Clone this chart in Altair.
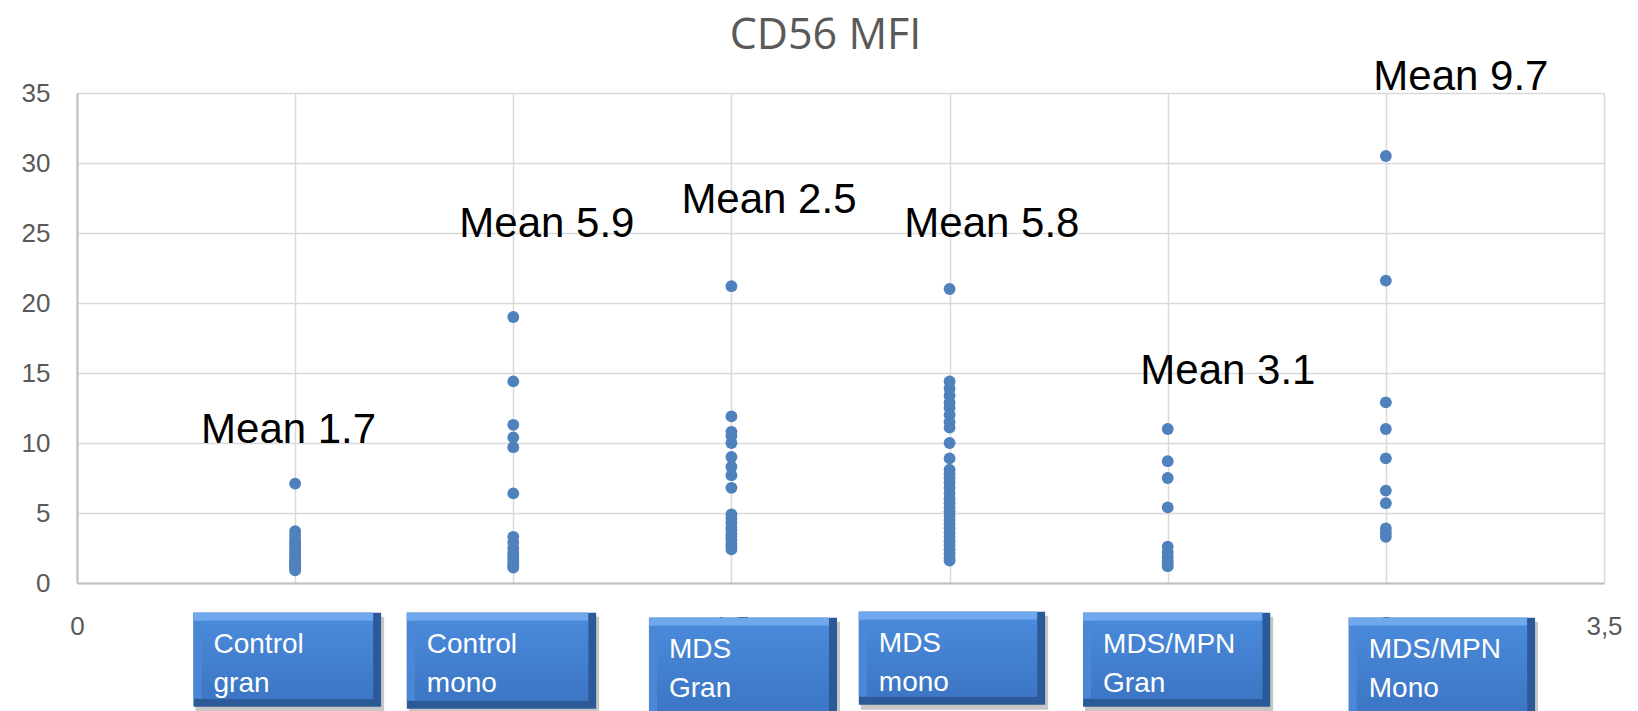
import altair as alt
import pandas as pd

# Group positions on the x axis and the measured CD56 MFI values per group
x_positions = [0.5, 1.0, 1.5, 2.0, 2.5, 3.0]

control_gran = [7.1, 3.7, 3.4, 3.1, 2.9, 2.7, 2.5, 2.3, 2.1, 1.9, 1.8, 1.6,
                1.5, 1.4, 1.3, 1.2, 1.1, 1.0, 0.9]
control_mono = [19.0, 14.4, 11.3, 10.4, 9.7, 6.4, 3.3, 2.9, 2.5, 2.2, 2.0,
                1.8, 1.6, 1.4, 1.2, 1.1]
mds_gran = [21.2, 11.9, 10.8, 10.5, 10.0, 9.0, 8.3, 7.7, 6.8, 4.9, 4.6, 4.3,
            4.0, 3.8, 3.5, 3.3, 3.1, 2.8, 2.6, 2.4]
mds_mono = [21.0, 14.4, 13.9, 13.4, 12.9, 12.5, 12.0, 11.5, 11.1, 10.0, 8.9,
            8.1, 7.8, 7.5, 7.2, 6.8, 6.4, 6.0, 5.7, 5.4, 5.1, 4.8, 4.5, 4.2,
            3.9, 3.6, 3.3, 3.0, 2.7, 2.4, 2.1, 1.8, 1.6]
mpn_gran = [11.0, 8.7, 7.5, 5.4, 2.6, 2.2, 1.9, 1.6, 1.4, 1.2]
mpn_mono = [30.5, 21.6, 12.9, 11.0, 8.9, 6.6, 5.7, 3.9, 3.6, 3.3]

groups = [control_gran, control_mono, mds_gran, mds_mono, mpn_gran, mpn_mono]

# "Mean" annotations (anchored in data space, baseline of the text)
mean_labels = ["Mean 1.7", "Mean 5.9", "Mean 2.5", "Mean 5.8", "Mean 3.1", "Mean 9.7"]
mean_x = [0.485, 1.077, 1.586, 2.097, 2.638, 3.172]
mean_y = [10.0, 24.7, 26.4, 24.7, 14.2, 35.2]

# Category boxes under the x axis (data-space extents)
NBSP = "\u00a0"
box_labels = ["Control\n" + NBSP + "gran", "Control\n" + NBSP + "mono", "MDS\nGran",
              "MDS\n" + NBSP + "mono", "MDS/MPN\nGran", "MDS/MPN\nMono"]
box_left = [0.267, 0.756, 1.311, 1.792, 2.306, 2.915]
box_right = [0.697, 1.190, 1.742, 2.219, 2.735, 3.342]
box_top = [-2.12, -2.12, -2.48, -2.05, -2.12, -2.48]
box_bottom = [-8.84, -8.98, -9.76, -8.69, -8.84, -9.76]

x_ticks = [0, 0.5, 1, 1.5, 2, 2.5, 3, 3.5]
y_ticks = [0, 5, 10, 15, 20, 25, 30, 35]

points = pd.DataFrame(
    [{"x": xp, "value": v} for xp, vals in zip(x_positions, groups) for v in vals]
)
means = pd.DataFrame({"label": mean_labels, "x": mean_x, "y": mean_y})
boxes = pd.DataFrame({"label": box_labels, "x0": box_left, "x1": box_right,
                      "top": box_top, "bottom": box_bottom})

x_scale = alt.Scale(domain=[0, 3.5], nice=False, zero=False)
y_scale = alt.Scale(domain=[0, 35], nice=False, zero=False)

x_axis = alt.Axis(
    values=x_ticks, title=None, grid=True, ticks=False,
    labelExpr="replace(toString(datum.value), '.', ',')",
    labelFlush=False, labelOverlap=False, labelPadding=30,
    labelFontSize=26, labelColor="#595959", labelFont="Liberation Sans",
    gridColor="#D9D9D9", gridWidth=1.5, domainColor="#BFBFBF", domainWidth=2,
    zindex=0,
)
y_axis = alt.Axis(
    values=y_ticks, title=None, grid=True, ticks=False,
    labelPadding=27, labelFontSize=26, labelColor="#595959",
    labelFont="Liberation Sans", labelFlush=False, labelOverlap=False,
    gridColor="#D9D9D9", gridWidth=1.5, domainColor="#BFBFBF", domainWidth=2,
    zindex=0,
)

X = lambda f: alt.X(f, type="quantitative", scale=x_scale, axis=x_axis)
Y = lambda f: alt.Y(f, type="quantitative", scale=y_scale, axis=y_axis)

dots = alt.Chart(points).mark_circle(size=140, color="#4F81BD", opacity=1).encode(
    x=X("x"), y=Y("value")
)

mean_text = alt.Chart(means).mark_text(
    align="center", baseline="alphabetic", fontSize=42,
    font="Liberation Sans", color="black"
).encode(x=X("x"), y=Y("y"), text="label:N")

box_base = alt.Chart(boxes)
box_enc = dict(x=X("x0"), x2="x1", y=Y("top"), y2="bottom")

shadow = box_base.mark_rect(
    color="black", opacity=0.22, xOffset=2, x2Offset=3, yOffset=4, y2Offset=5
).encode(**box_enc)
edge_dark = box_base.mark_rect(color="#2C5A98").encode(**box_enc)
edge_left = box_base.mark_rect(color="#4A88D6", x2Offset=-8, y2Offset=-8).encode(**box_enc)
edge_top = box_base.mark_rect(color="#6FA8EC", x2Offset=-8, y2Offset=8).encode(
    x=X("x0"), x2="x1", y=Y("top"), y2="top"
)
face = box_base.mark_rect(
    xOffset=8, x2Offset=-8, yOffset=8, y2Offset=-8,
    fill=alt.LinearGradient(
        gradient="linear", x1=0, x2=0, y1=0, y2=1,
        stops=[alt.GradientStop(color="#4A8ADA", offset=0),
               alt.GradientStop(color="#3C76C4", offset=1)],
    ),
).encode(**box_enc)
box_text = box_base.mark_text(
    align="left", baseline="alphabetic", dx=20, dy=40, fontSize=28,
    font="Liberation Sans", color="white", lineBreak="\n", lineHeight=39
).encode(x=X("x0"), y=Y("top"), text="label:N")

chart = alt.layer(
    dots, mean_text, shadow, edge_dark, edge_left, edge_top, face, box_text
).properties(
    width=1527,
    height=490,
    padding={"left": 77, "top": 93, "right": 34, "bottom": 128},
    autosize=alt.AutoSizeParams(type="none"),
    title=alt.TitleParams(
        "CD56 MFI", font="Open Sans", fontSize=43, fontWeight="normal",
        color="#595959", anchor="middle", frame="group", offset=5, dx=-15, dy=7,
    ),
).configure_view(stroke=None).configure(background="white")

chart.save("out.html", embed_options={"renderer": "svg", "actions": False})
